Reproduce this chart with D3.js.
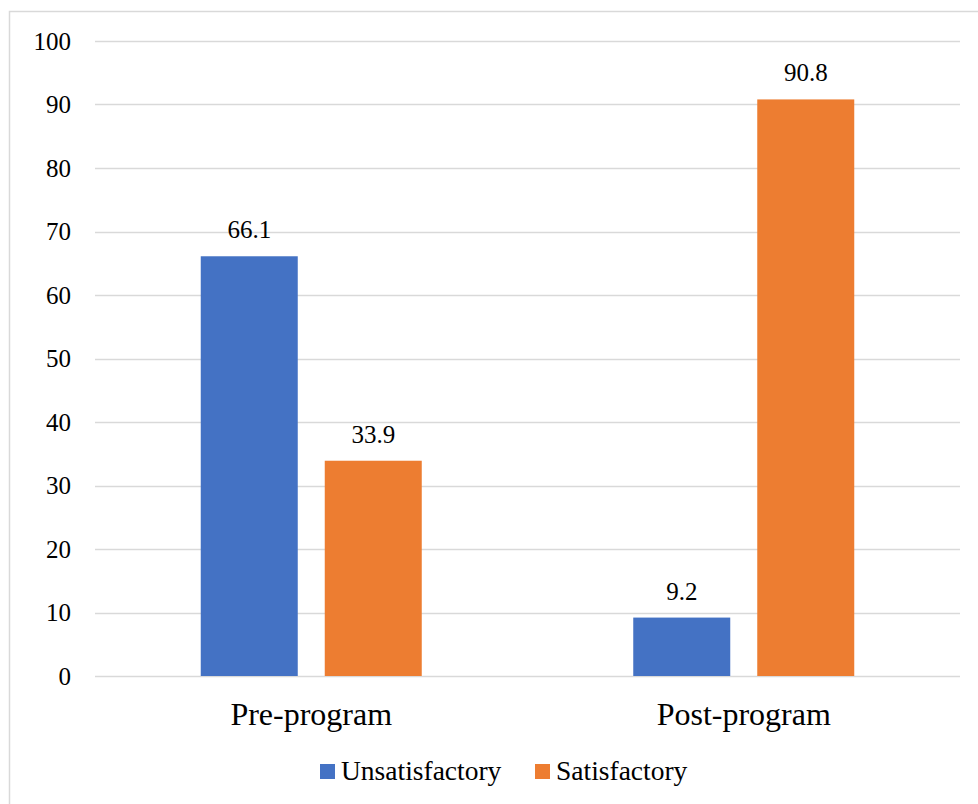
<!DOCTYPE html>
<html>
<head>
<meta charset="utf-8">
<script src="https://cdn.jsdelivr.net/npm/d3@7"></script>
<style>
  html, body { margin: 0; padding: 0; background: #fff; }
  svg { display: block; }
</style>
</head>
<body>
<svg id="chart" width="978" height="804"></svg>
<script>
// Survey outcome shares (%) before and after the program
const categories = ["Pre-program", "Post-program"];
const seriesNames = ["Unsatisfactory", "Satisfactory"];
const unsatisfactory = [66.1, 9.2];
const satisfactory = [33.9, 90.8];
const yTicks = [0, 10, 20, 30, 40, 50, 60, 70, 80, 90, 100];
const colors = ["#4472C4", "#ED7D31"];

const FONT = "Liberation Serif";

const seriesValues = [unsatisfactory, satisfactory];
const rows = categories.map((c, i) => ({
  category: c,
  values: seriesNames.map((s, j) => ({ series: s, value: seriesValues[j][i], color: colors[j] }))
}));

const svg = d3.select("#chart");
const W = 978, H = 804;
const plot = { left: 95, right: 960, top: 41, bottom: 676 };

// outer frame
svg.append("rect")
  .attr("x", 9.5).attr("y", 11.5)
  .attr("width", W).attr("height", H)
  .attr("fill", "#fff").attr("stroke", "#d9d9d9").attr("stroke-width", 1.5);

const x0 = d3.scaleBand().domain(categories).range([plot.left, plot.right]).paddingInner(0).paddingOuter(0);
const y = d3.scaleLinear().domain([0, 100]).range([plot.bottom, plot.top]);

// bar geometry inside each category band
const barW = 97, gap = 27;
const groupW = barW * 2 + gap;
const xs = d3.scaleOrdinal().domain(seriesNames).range([0, barW + gap]);

// gridlines
svg.append("g").selectAll("line").data(yTicks).join("line")
  .attr("x1", plot.left).attr("x2", plot.right)
  .attr("y1", d => Math.round(y(d)) + 0.5).attr("y2", d => Math.round(y(d)) + 0.5)
  .attr("stroke", "#d9d9d9").attr("stroke-width", 1.5);

// y axis labels
const yAxis = d3.axisLeft(y).tickValues(yTicks).tickSize(0).tickPadding(0);
const yg = svg.append("g").attr("transform", `translate(71,0)`).call(yAxis);
yg.attr("font-family", null).attr("font-size", null);
yg.select(".domain").remove();
yg.selectAll("text").style("font-family", FONT).style("font-size", "25px").attr("fill", "#000");

// bars
const groups = svg.append("g").selectAll("g").data(rows).join("g")
  .attr("transform", d => `translate(${x0(d.category) + (x0.bandwidth() - groupW) / 2},0)`);

groups.selectAll("rect").data(d => d.values).join("rect")
  .attr("x", d => xs(d.series))
  .attr("y", d => y(d.value))
  .attr("width", barW)
  .attr("height", d => y(0) - y(d.value))
  .attr("fill", d => d.color);

// value labels
groups.selectAll("text.val").data(d => d.values).join("text")
  .attr("class", "val")
  .attr("x", d => xs(d.series) + barW / 2)
  .attr("y", d => y(d.value) - 18)
  .attr("text-anchor", "middle")
  .style("font-family", FONT)
  .style("font-size", "25px")
  .attr("fill", "#000")
  .text(d => d.value.toFixed(1));

// category axis
const xAxis = d3.axisBottom(x0).tickSize(0).tickPadding(0);
const xg = svg.append("g").attr("transform", `translate(0,${plot.bottom})`).call(xAxis);
xg.attr("font-family", null).attr("font-size", null);
xg.select(".domain").remove();
xg.selectAll("text")
  .attr("dy", null).attr("y", 49)
  .style("font-family", FONT).style("font-size", "32px").attr("fill", "#000");

// legend
const legendItems = [
  { name: seriesNames[0], color: colors[0], x: 320 },
  { name: seriesNames[1], color: colors[1], x: 535 }
];
const lg = svg.append("g").selectAll("g").data(legendItems).join("g")
  .attr("transform", d => `translate(${d.x},0)`);
lg.append("rect").attr("x", 0).attr("y", 764).attr("width", 15).attr("height", 15).attr("fill", d => d.color);
lg.append("text").attr("x", 21).attr("y", 780)
  .style("font-family", FONT).style("font-size", "27.5px").attr("fill", "#000")
  .text(d => d.name);
</script>
</body>
</html>
